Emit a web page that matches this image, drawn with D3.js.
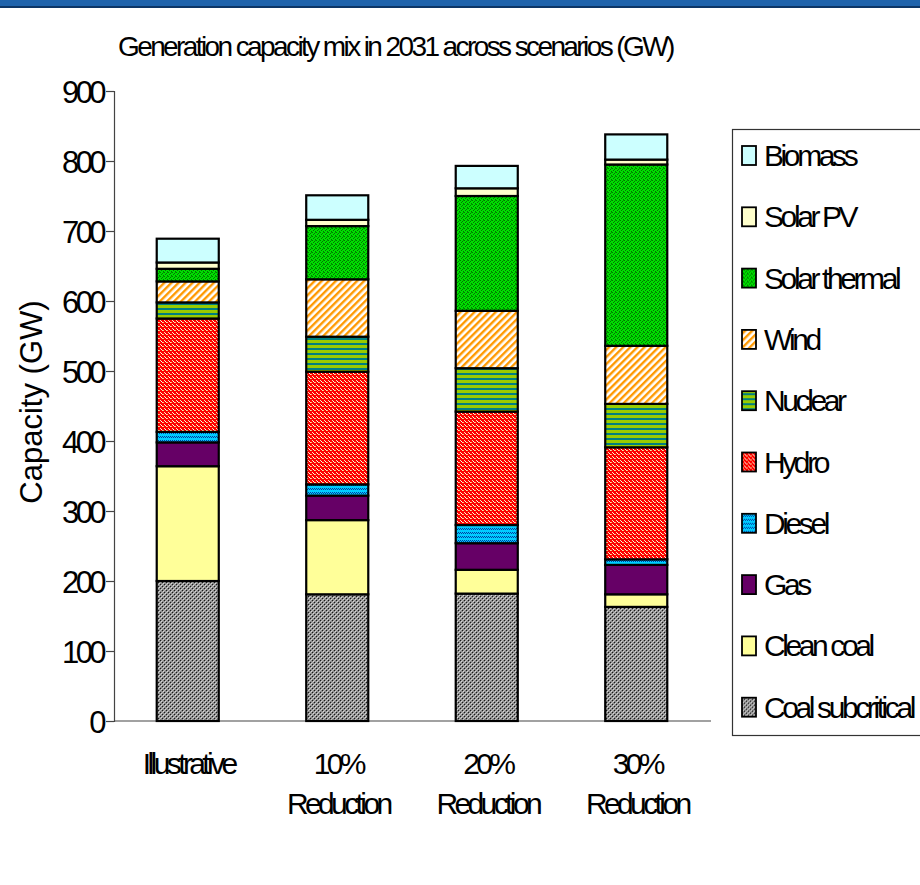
<!DOCTYPE html>
<html>
<head>
<meta charset="utf-8">
<script src="https://cdn.jsdelivr.net/npm/d3@7/dist/d3.min.js"></script>
<style>
  html, body { margin: 0; padding: 0; background: #fff; }
  svg { display: block; }
  text { font-family: "Liberation Sans", Arial, sans-serif; fill: #000; }
</style>
</head>
<body>
<div id="chart"></div>
<script>
// Scenario categories (x axis), drawn on two lines where needed
const categories = ["Illustrative", "10% Reduction", "20% Reduction", "30% Reduction"];
const categoryLines = [["Illustrative"], ["10%", "Reduction"], ["20%", "Reduction"], ["30%", "Reduction"]];

// Technologies, bottom of stack first
const seriesNames = ["Coal subcritical", "Clean coal", "Gas", "Diesel", "Hydro",
                     "Nuclear", "Wind", "Solar thermal", "Solar PV", "Biomass"];

// Installed capacity in 2031, GW, per scenario
const coalSubcritical = [200, 181, 182, 163];
const cleanCoal       = [164, 106, 34, 18];
const gas             = [34, 35, 38, 42];
const diesel          = [15, 16, 26, 8];
const hydro           = [162, 161, 162, 160];
const nuclear         = [23, 50, 62, 62];
const wind            = [30, 82, 82, 83];
const solarThermal    = [18, 76, 164, 259];
const solarPV         = [9, 9, 11, 7];
const biomass         = [34, 35, 32, 36];

const yTicks = [0, 100, 200, 300, 400, 500, 600, 700, 800, 900];
const titleText = "Generation capacity mix in 2031 across scenarios (GW)";
const yTitle = "Capacity (GW)";

const seriesValues = [coalSubcritical, cleanCoal, gas, diesel, hydro,
                      nuclear, wind, solarThermal, solarPV, biomass];

const W = 920, H = 885;
const svg = d3.select("#chart").append("svg").attr("width", W).attr("height", H);

// ---- fill patterns ----
const defs = svg.append("defs");
function pattern(id, w, h, bg, cells, transform) {
  const p = defs.append("pattern").attr("id", id).attr("patternUnits", "userSpaceOnUse")
    .attr("width", w).attr("height", h);
  if (transform) p.attr("patternTransform", transform);
  p.append("rect").attr("width", w).attr("height", h).attr("fill", bg);
  cells.forEach(c => p.append("rect").attr("x", c[0]).attr("y", c[1])
    .attr("width", c[2]).attr("height", c[3]).attr("fill", c[4]));
  return "url(#" + id + ")";
}
const fills = {
  "Coal subcritical": pattern("pCoal", 4, 4, "#8c8c8c", [
    [0, 0, 1, 1, "#1a1a1a"], [2, 2, 1, 1, "#1a1a1a"],
    [1, 1, 1, 1, "#d9d9d9"], [3, 3, 1, 1, "#d9d9d9"], [2, 0, 1, 1, "#bdbdbd"], [0, 2, 1, 1, "#bdbdbd"]]),
  "Clean coal": "#FFFF99",
  "Gas": "#660066",
  "Diesel": pattern("pDiesel", 4, 4, "#00CCFF", [
    [0, 0, 1, 1, "#0040A0"], [1, 1, 1, 1, "#0040A0"], [2, 0, 1, 1, "#0040A0"], [3, 1, 1, 1, "#0040A0"]]),
  "Hydro": pattern("pHydro", 4, 4, "#FF0000", [
    [0, 0, 1, 1, "#F8E8A8"], [1, 1, 1, 1, "#FFFFFF"], [2, 2, 1, 1, "#F8E8A8"], [3, 2, 1, 1, "#F0C080"]]),
  "Nuclear": pattern("pNuclear", 5, 5, "#99CC00", [[0, 3, 5, 2, "#008080"]]),
  "Wind": pattern("pWind", 5, 5, "#FFFFFF", [[0, 0, 2.4, 5, "#FF9900"]], "rotate(45)"),
  "Solar thermal": pattern("pSolarTh", 4, 4, "#00DD00", [
    [0, 0, 1, 1, "#007A00"], [2, 1, 1, 1, "#007A00"], [1, 2, 1, 1, "#007A00"], [3, 3, 1, 1, "#007A00"], [3, 0, 1, 1, "#009900"]]),
  "Solar PV": "#FFFFCC",
  "Biomass": "#CCFFFF"
};

// ---- header band ----
svg.append("rect").attr("x", 0).attr("y", 0).attr("width", W).attr("height", 6).attr("fill", "#1F63AC");
svg.append("rect").attr("x", 0).attr("y", 6).attr("width", W).attr("height", 2).attr("fill", "#0C3566");

// ---- scales ----
const y = d3.scaleLinear().domain([0, 900]).range([721, 91]);
const x = d3.scaleBand().domain(categories).range([113, 711]).paddingInner(0.585).paddingOuter(0.2925);

// ---- stacked data ----
const table = categories.map((c, i) => {
  const row = { category: c };
  seriesNames.forEach((s, k) => row[s] = seriesValues[k][i]);
  return row;
});
const stacked = d3.stack().keys(seriesNames)(table);

const fontCond = { size: 30, ls: -3.6 };

// ---- axes ----
const yAxis = svg.append("g").attr("transform", "translate(114,0)")
  .call(d3.axisLeft(y).tickValues(yTicks).tickSize(8).tickPadding(3).tickFormat(d3.format("d")));
yAxis.select(".domain").attr("stroke", "#444").attr("stroke-width", 1.2);
yAxis.selectAll(".tick line").attr("stroke", "#444").attr("stroke-width", 1.2);
yAxis.selectAll(".tick text")
  .style("font-family", "'Liberation Sans', Arial, sans-serif")
  .style("font-size", "31px").style("letter-spacing", "-3.6px")
  .attr("fill", "#000").attr("dy", "0.36em");

// x baseline
svg.append("line").attr("x1", 114).attr("x2", 711).attr("y1", y(0)).attr("y2", y(0))
  .attr("stroke", "#444").attr("stroke-width", 1.2);

// ---- bars ----
svg.append("g").selectAll("g").data(stacked).join("g")
  .attr("fill", d => fills[d.key])
  .selectAll("rect").data(d => d).join("rect")
  .attr("x", d => x(d.data.category))
  .attr("width", x.bandwidth())
  .attr("y", d => y(d[1]))
  .attr("height", d => y(d[0]) - y(d[1]))
  .attr("stroke", "#000").attr("stroke-width", 2.2);

// ---- x labels ----
categories.forEach((c, i) => {
  const cx = x(c) + x.bandwidth() / 2 + 1;
  const t = svg.append("text").attr("text-anchor", "middle")
    .style("font-size", fontCond.size + "px").style("letter-spacing", fontCond.ls + "px");
  categoryLines[i].forEach((line, j) => {
    t.append("tspan").attr("x", cx).attr("y", 774 + j * 40).text(line);
  });
});

// ---- titles ----
svg.append("text").attr("x", 118).attr("y", 56)
  .style("font-size", "28px").style("letter-spacing", "-2.6px").text(titleText);

svg.append("text").attr("transform", "translate(42,402) rotate(-90)").attr("text-anchor", "middle")
  .style("font-size", "31px").text(yTitle);

// ---- legend ----
svg.append("rect").attr("x", 732.5).attr("y", 129.5).attr("width", 200).attr("height", 606)
  .attr("fill", "#fff").attr("stroke", "#333").attr("stroke-width", 1.2);
const legendItems = seriesNames.slice().reverse();
const lg = svg.append("g").selectAll("g").data(legendItems).join("g")
  .attr("transform", (d, i) => `translate(0,${155 + i * 61.3})`);
lg.append("rect").attr("x", 742).attr("y", -9).attr("width", 14).attr("height", 19)
  .attr("fill", d => fills[d]).attr("stroke", "#000").attr("stroke-width", 1.8);
lg.append("text").attr("x", 764).attr("y", 11)
  .style("font-size", fontCond.size + "px").style("letter-spacing", "-3.4px")
  .text(d => d);
</script>
</body>
</html>
